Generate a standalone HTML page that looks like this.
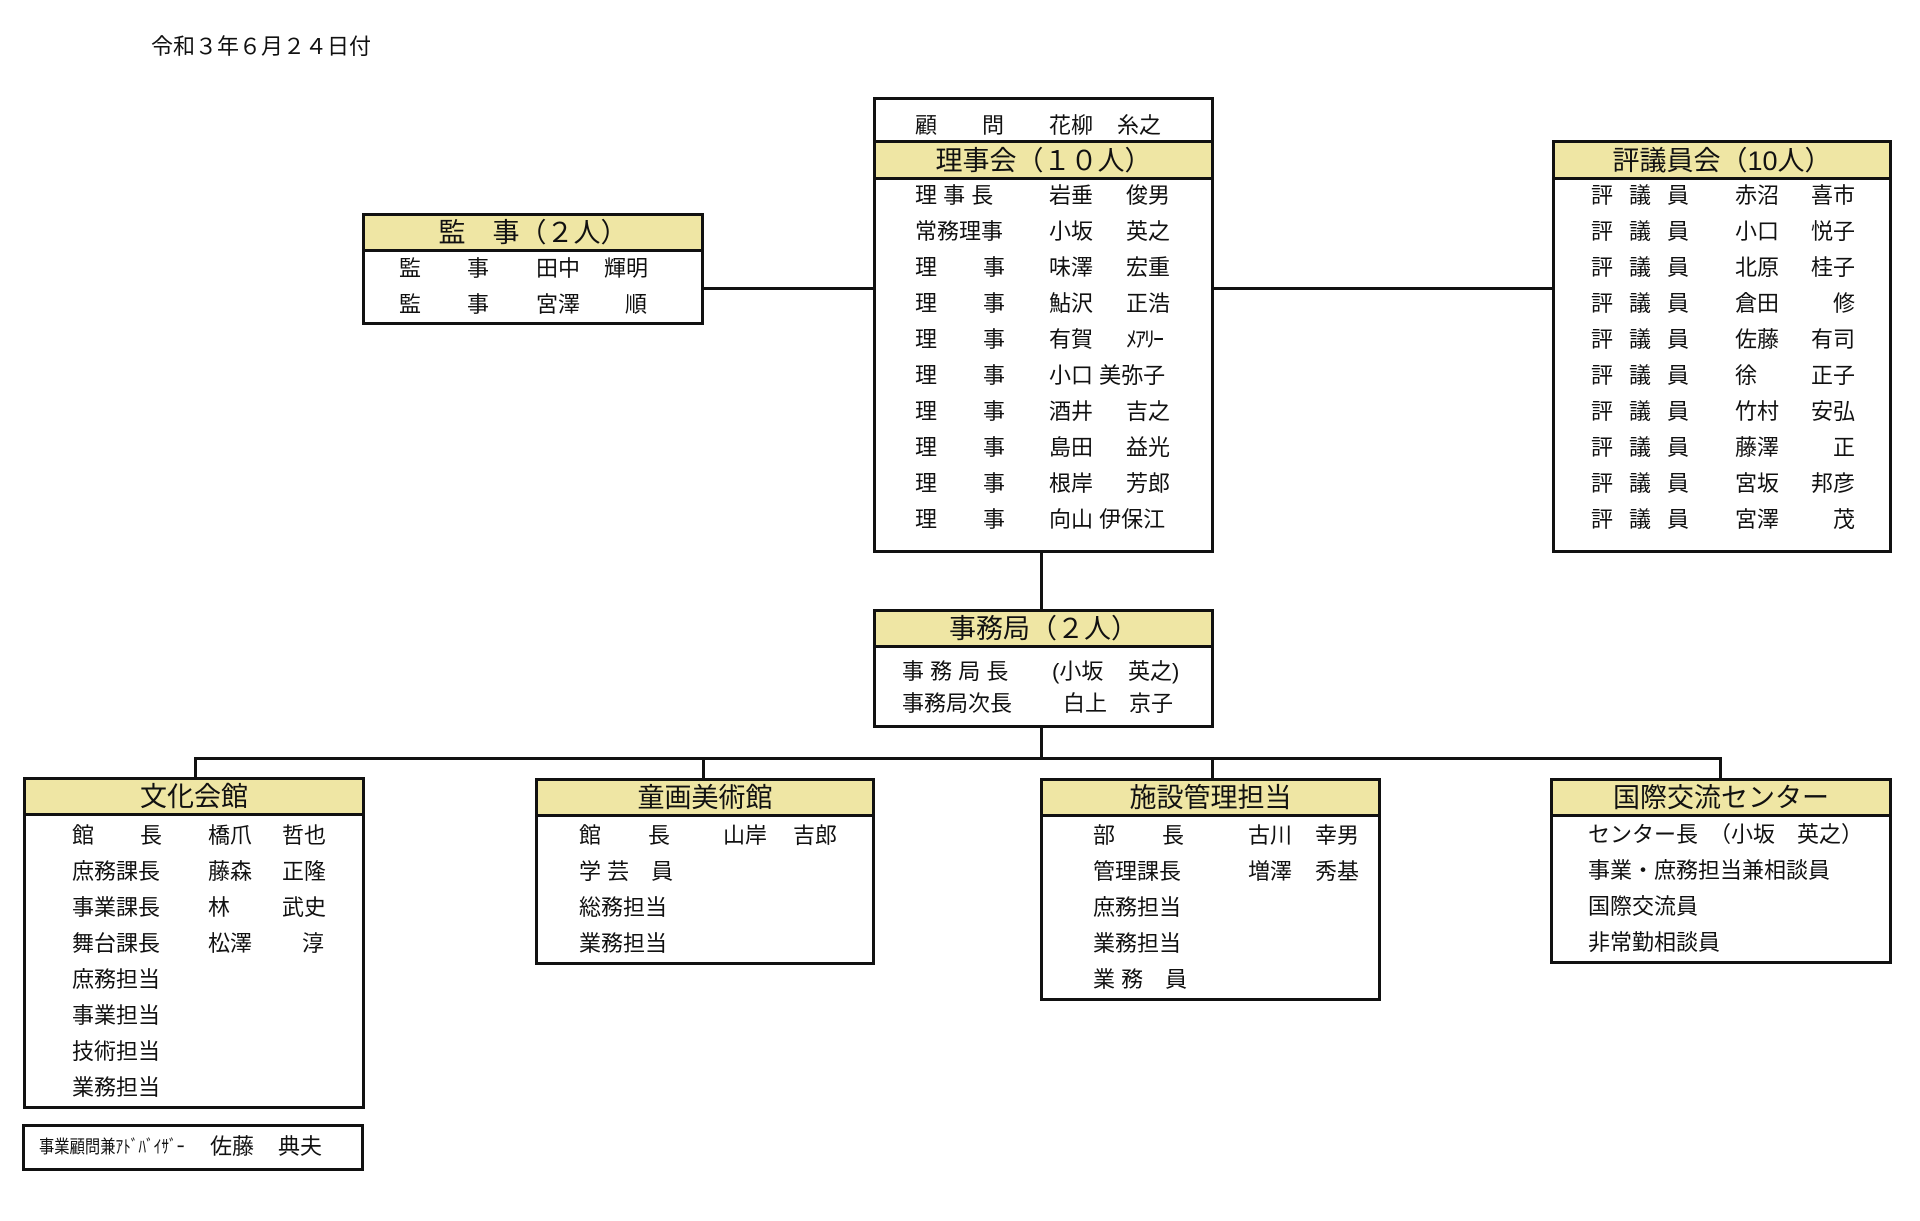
<!DOCTYPE html>
<html><head><meta charset="utf-8"><style>
html,body{margin:0;padding:0;background:#fff}
body{width:1920px;height:1221px;position:relative;overflow:hidden;font-family:"Liberation Sans","Noto Sans CJK JP",sans-serif;color:#111}
.b{position:absolute;border:3px solid #111;box-sizing:border-box;background:#fff}
.h{position:absolute;background:#efe6a4;border:3px solid #111;box-sizing:border-box;font-size:27px;line-height:30px;text-align:center;white-space:pre}
.t{position:absolute;font-size:22px;line-height:26px;white-space:pre}
.l{position:absolute;background:#111}
</style></head><body>
<div class="t" style="left:151px;top:34px;font-size:22px">令和３年６月２４日付</div>

<!-- lines -->
<div class="l" style="left:703px;top:287px;width:172px;height:3px"></div>
<div class="l" style="left:1211px;top:287px;width:343px;height:3px"></div>
<div class="l" style="left:1040px;top:550px;width:3px;height:61px"></div>
<div class="l" style="left:1040px;top:725px;width:3px;height:35px"></div>
<div class="l" style="left:194px;top:757px;width:1528px;height:3px"></div>
<div class="l" style="left:194px;top:757px;width:3px;height:22px"></div>
<div class="l" style="left:702px;top:757px;width:3px;height:22px"></div>
<div class="l" style="left:1211px;top:757px;width:3px;height:22px"></div>
<div class="l" style="left:1719px;top:757px;width:3px;height:22px"></div>

<!-- 監事 -->
<div class="b" style="left:362px;top:213px;width:342px;height:112px"></div>
<div class="h" style="left:362px;top:213px;width:342px;height:39px;padding-top:2px">監　事（２人）</div>
<div class="t" style="left:399px;top:256px">監</div><div class="t" style="left:467px;top:256px">事</div>
<div class="t" style="left:536px;top:256px">田中</div><div class="t" style="left:604px;top:256px">輝明</div>
<div class="t" style="left:399px;top:292px">監</div><div class="t" style="left:467px;top:292px">事</div>
<div class="t" style="left:536px;top:292px">宮澤</div><div class="t" style="left:625px;top:292px">順</div>

<!-- 理事会 -->
<div class="b" style="left:873px;top:97px;width:341px;height:456px"></div>
<div class="h" style="left:873px;top:140px;width:341px;height:40px;padding-top:3px">理事会（１０人）</div>
<div class="t" style="left:915px;top:113px">顧</div><div class="t" style="left:982px;top:113px">問</div>
<div class="t" style="left:1049px;top:113px">花柳</div><div class="t" style="left:1117px;top:113px">糸之</div>
<div class="t" style="left:915px;top:183px">理 事 長</div><div class="t" style="left:1049px;top:183px">岩垂</div><div class="t" style="left:1126px;top:183px">俊男</div>
<div class="t" style="left:915px;top:219px">常務理事</div><div class="t" style="left:1049px;top:219px">小坂</div><div class="t" style="left:1126px;top:219px">英之</div>
<div class="t" style="left:915px;top:255px">理</div><div class="t" style="left:983px;top:255px">事</div><div class="t" style="left:1049px;top:255px">味澤</div><div class="t" style="left:1126px;top:255px">宏重</div>
<div class="t" style="left:915px;top:291px">理</div><div class="t" style="left:983px;top:291px">事</div><div class="t" style="left:1049px;top:291px">鮎沢</div><div class="t" style="left:1126px;top:291px">正浩</div>
<div class="t" style="left:915px;top:327px">理</div><div class="t" style="left:983px;top:327px">事</div><div class="t" style="left:1049px;top:327px">有賀</div><div class="t" style="left:1126px;top:327px;font-size:22px;letter-spacing:-2px">ﾒｱﾘｰ</div>
<div class="t" style="left:915px;top:363px">理</div><div class="t" style="left:983px;top:363px">事</div><div class="t" style="left:1049px;top:363px">小口 美弥子</div>
<div class="t" style="left:915px;top:399px">理</div><div class="t" style="left:983px;top:399px">事</div><div class="t" style="left:1049px;top:399px">酒井</div><div class="t" style="left:1126px;top:399px">吉之</div>
<div class="t" style="left:915px;top:435px">理</div><div class="t" style="left:983px;top:435px">事</div><div class="t" style="left:1049px;top:435px">島田</div><div class="t" style="left:1126px;top:435px">益光</div>
<div class="t" style="left:915px;top:471px">理</div><div class="t" style="left:983px;top:471px">事</div><div class="t" style="left:1049px;top:471px">根岸</div><div class="t" style="left:1126px;top:471px">芳郎</div>
<div class="t" style="left:915px;top:507px">理</div><div class="t" style="left:983px;top:507px">事</div><div class="t" style="left:1049px;top:507px">向山 伊保江</div>

<!-- 評議員会 -->
<div class="b" style="left:1552px;top:140px;width:340px;height:413px"></div>
<div class="h" style="left:1552px;top:140px;width:340px;height:40px;padding-top:3px">評議員会（10人）</div>

<!-- 事務局 -->
<div class="b" style="left:873px;top:609px;width:341px;height:119px"></div>
<div class="h" style="left:873px;top:609px;width:341px;height:39px;padding-top:2px">事務局（２人）</div>
<div class="t" style="left:902px;top:659px">事 務 局 長</div><div class="t" style="left:1052px;top:659px">(小坂</div><div class="t" style="left:1128px;top:659px">英之)</div>
<div class="t" style="left:902px;top:691px">事務局次長</div><div class="t" style="left:1063px;top:691px">白上</div><div class="t" style="left:1129px;top:691px">京子</div>

<!-- 文化会館 -->
<div class="b" style="left:23px;top:777px;width:342px;height:332px"></div>
<div class="h" style="left:23px;top:777px;width:342px;height:39px;padding-top:2px">文化会館</div>
<div class="t" style="left:72px;top:823px">館</div><div class="t" style="left:140px;top:823px">長</div><div class="t" style="left:208px;top:823px">橋爪</div><div class="t" style="left:282px;top:823px">哲也</div>
<div class="t" style="left:72px;top:859px">庶務課長</div><div class="t" style="left:208px;top:859px">藤森</div><div class="t" style="left:282px;top:859px">正隆</div>
<div class="t" style="left:72px;top:895px">事業課長</div><div class="t" style="left:208px;top:895px">林</div><div class="t" style="left:282px;top:895px">武史</div>
<div class="t" style="left:72px;top:931px">舞台課長</div><div class="t" style="left:208px;top:931px">松澤</div><div class="t" style="left:302px;top:931px">淳</div>
<div class="t" style="left:72px;top:967px">庶務担当</div>
<div class="t" style="left:72px;top:1003px">事業担当</div>
<div class="t" style="left:72px;top:1039px">技術担当</div>
<div class="t" style="left:72px;top:1075px">業務担当</div>

<div class="b" style="left:22px;top:1124px;width:342px;height:47px"></div>
<div class="t" style="left:39px;top:1134px;font-size:18px;transform:scaleX(0.85);transform-origin:left">事業顧問兼ｱﾄﾞﾊﾞｲｻﾞｰ</div>
<div class="t" style="left:210px;top:1134px">佐藤</div><div class="t" style="left:278px;top:1134px">典夫</div>

<!-- 童画美術館 -->
<div class="b" style="left:535px;top:778px;width:340px;height:187px"></div>
<div class="h" style="left:535px;top:778px;width:340px;height:39px;padding-top:2px">童画美術館</div>
<div class="t" style="left:579px;top:823px">館</div><div class="t" style="left:648px;top:823px">長</div><div class="t" style="left:723px;top:823px">山岸</div><div class="t" style="left:793px;top:823px">吉郎</div>
<div class="t" style="left:579px;top:859px">学 芸　員</div>
<div class="t" style="left:579px;top:895px">総務担当</div>
<div class="t" style="left:579px;top:931px">業務担当</div>

<!-- 施設管理担当 -->
<div class="b" style="left:1040px;top:778px;width:341px;height:223px"></div>
<div class="h" style="left:1040px;top:778px;width:341px;height:39px;padding-top:2px">施設管理担当</div>
<div class="t" style="left:1093px;top:823px">部</div><div class="t" style="left:1162px;top:823px">長</div><div class="t" style="left:1248px;top:823px">古川</div><div class="t" style="left:1315px;top:823px">幸男</div>
<div class="t" style="left:1093px;top:859px">管理課長</div><div class="t" style="left:1248px;top:859px">増澤</div><div class="t" style="left:1315px;top:859px">秀基</div>
<div class="t" style="left:1093px;top:895px">庶務担当</div>
<div class="t" style="left:1093px;top:931px">業務担当</div>
<div class="t" style="left:1093px;top:967px">業 務　員</div>

<!-- 国際交流センター -->
<div class="b" style="left:1550px;top:778px;width:342px;height:186px"></div>
<div class="h" style="left:1550px;top:778px;width:342px;height:39px;padding-top:2px">国際交流センター</div>
<div class="t" style="left:1588px;top:822px">センター長　（小坂　英之）</div>
<div class="t" style="left:1588px;top:858px">事業・庶務担当兼相談員</div>
<div class="t" style="left:1588px;top:894px">国際交流員</div>
<div class="t" style="left:1588px;top:930px">非常勤相談員</div>

<div class="t" style="left:1591px;top:183px">評</div><div class="t" style="left:1629px;top:183px">議</div><div class="t" style="left:1667px;top:183px">員</div><div class="t" style="left:1735px;top:183px">赤沼</div><div class="t" style="left:1811px;top:183px">喜市</div>
<div class="t" style="left:1591px;top:219px">評</div><div class="t" style="left:1629px;top:219px">議</div><div class="t" style="left:1667px;top:219px">員</div><div class="t" style="left:1735px;top:219px">小口</div><div class="t" style="left:1811px;top:219px">悦子</div>
<div class="t" style="left:1591px;top:255px">評</div><div class="t" style="left:1629px;top:255px">議</div><div class="t" style="left:1667px;top:255px">員</div><div class="t" style="left:1735px;top:255px">北原</div><div class="t" style="left:1811px;top:255px">桂子</div>
<div class="t" style="left:1591px;top:291px">評</div><div class="t" style="left:1629px;top:291px">議</div><div class="t" style="left:1667px;top:291px">員</div><div class="t" style="left:1735px;top:291px">倉田</div><div class="t" style="left:1833px;top:291px">修</div>
<div class="t" style="left:1591px;top:327px">評</div><div class="t" style="left:1629px;top:327px">議</div><div class="t" style="left:1667px;top:327px">員</div><div class="t" style="left:1735px;top:327px">佐藤</div><div class="t" style="left:1811px;top:327px">有司</div>
<div class="t" style="left:1591px;top:363px">評</div><div class="t" style="left:1629px;top:363px">議</div><div class="t" style="left:1667px;top:363px">員</div><div class="t" style="left:1735px;top:363px">徐</div><div class="t" style="left:1811px;top:363px">正子</div>
<div class="t" style="left:1591px;top:399px">評</div><div class="t" style="left:1629px;top:399px">議</div><div class="t" style="left:1667px;top:399px">員</div><div class="t" style="left:1735px;top:399px">竹村</div><div class="t" style="left:1811px;top:399px">安弘</div>
<div class="t" style="left:1591px;top:435px">評</div><div class="t" style="left:1629px;top:435px">議</div><div class="t" style="left:1667px;top:435px">員</div><div class="t" style="left:1735px;top:435px">藤澤</div><div class="t" style="left:1833px;top:435px">正</div>
<div class="t" style="left:1591px;top:471px">評</div><div class="t" style="left:1629px;top:471px">議</div><div class="t" style="left:1667px;top:471px">員</div><div class="t" style="left:1735px;top:471px">宮坂</div><div class="t" style="left:1811px;top:471px">邦彦</div>
<div class="t" style="left:1591px;top:507px">評</div><div class="t" style="left:1629px;top:507px">議</div><div class="t" style="left:1667px;top:507px">員</div><div class="t" style="left:1735px;top:507px">宮澤</div><div class="t" style="left:1833px;top:507px">茂</div>
</body></html>
